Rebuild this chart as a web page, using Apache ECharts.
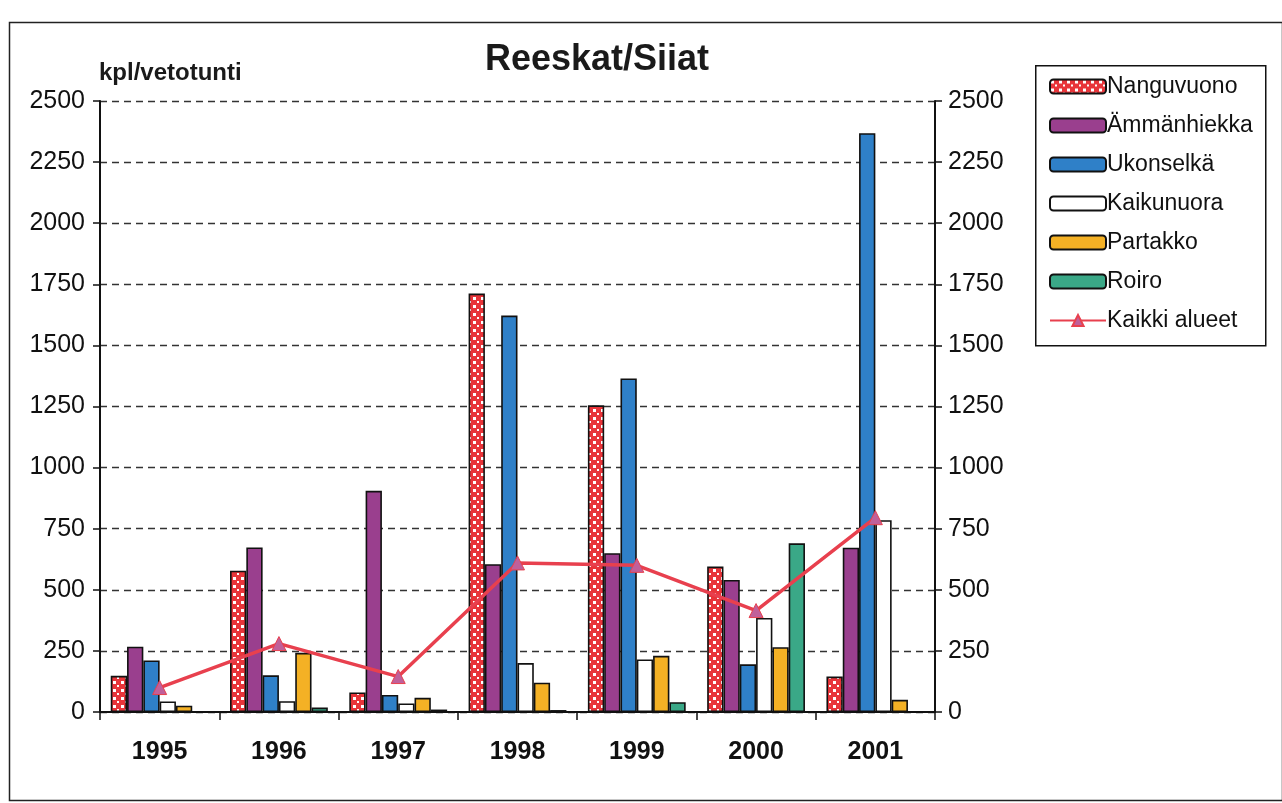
<!DOCTYPE html>
<html>
<head>
<meta charset="utf-8">
<script src="https://cdn.jsdelivr.net/npm/echarts@6/dist/echarts.min.js"></script>
<style>
html,body{margin:0;padding:0;background:#fff;}
#chart{width:1282px;height:803px;}
</style>
</head>
<body>
<div id="chart"></div>
<script>
const years = ['1995','1996','1997','1998','1999','2000','2001'];
const yTicks = [0,250,500,750,1000,1250,1500,1750,2000,2250,2500];
const nanguvuono = [148, 578, 80, 1712, 1255, 595, 145];
const ammanhiekka = [267, 673, 905, 605, 650, 540, 672];
const ukonselka = [211, 150, 70, 1622, 1365, 195, 2368];
const kaikunuora = [43, 44, 35, 200, 215, 385, 785];
const partakko = [26, 242, 58, 120, 230, 265, 50];
const roiro = [0, 18, 10, 8, 40, 690, 0];
const kaikkiAlueet = [100, 280, 145, 610, 600, 415, 795];

// checkered red/white pattern
const pc = document.createElement('canvas');
pc.width = 8; pc.height = 8;
const px = pc.getContext('2d');
px.fillStyle = '#e8353a'; px.fillRect(0,0,8,8);
px.fillStyle = '#ffffff';
px.fillRect(1,1,3,3); px.fillRect(5,5,2,2);
const checker = {image: pc, repeat: 'repeat'};

const chart = echarts.init(document.getElementById('chart'));
const border = {borderColor:'#111', borderWidth:1.6};
function barSeries(name, data, color){
  return {name, type:'bar', data, yAxisIndex:0, barGap:'0%', barCategoryGap:'18%',
    itemStyle:Object.assign({color}, border)};
}
const FF = 'Liberation Sans, Arial, sans-serif';
const axisFont = {fontFamily:FF, fontSize:25, color:'#111'};
chart.setOption({
  animation:false,
  backgroundColor:'#fff',
  title:[
    {text:'Reeskat/Siiat', left:592, top:37, textAlign:'center',
     textStyle:{fontFamily:FF, fontSize:36, fontWeight:'bold', color:'#1a1a1a'}},
    {text:'kpl/vetotunti', left:94, top:56,
     textStyle:{fontFamily:FF, fontSize:24, fontWeight:'bold', color:'#1a1a1a'}}
  ],
  graphic:[
    {type:'rect', left:7, top:20, shape:{width:1273, height:778}, style:{fill:null, stroke:'#222', lineWidth:1.5}, silent:true, z:-1},
    {type:'rect', left:1035, top:65, shape:{width:230, height:280}, style:{fill:'#fff', stroke:'#111', lineWidth:1.5}, silent:true, z:-1}
  ],
  legend:{
    orient:'vertical', left:1044, top:70, itemWidth:56, itemHeight:14, itemGap:16,
    textStyle:{fontFamily:FF, fontSize:23, color:'#111', padding:[0,0,0,-4]},
    data:['Nanguvuono','Ämmänhiekka','Ukonselkä','Kaikunuora','Partakko','Roiro','Kaikki alueet']
  },
  grid:{left:100, right:347, top:101, bottom:91},
  xAxis:{
    type:'category', data:years,
    axisLine:{lineStyle:{color:'#111', width:2}},
    axisTick:{show:true, length:8, lineStyle:{color:'#111', width:1.5}},
    axisLabel:Object.assign({margin:28, fontWeight:'bold'}, axisFont)
  },
  yAxis:[
    {type:'value', min:0, max:2500, interval:250,
     axisLine:{show:true, lineStyle:{color:'#111', width:2}},
     axisTick:{show:true, length:7, lineStyle:{color:'#111', width:1.5}},
     axisLabel:Object.assign({margin:15, formatter:v=>yTicks.includes(v)?String(v):''}, axisFont),
     splitLine:{show:true, lineStyle:{color:'#333', width:1.3, type:[7,5]}}},
    {type:'value', min:0, max:2500, interval:250, position:'right',
     axisLine:{show:true, lineStyle:{color:'#111', width:2}},
     axisTick:{show:true, length:7, inside:false, lineStyle:{color:'#111', width:1.5}},
     axisLabel:Object.assign({margin:13, formatter:v=>yTicks.includes(v)?String(v):''}, axisFont),
     splitLine:{show:false}}
  ],
  series:[
    barSeries('Nanguvuono', nanguvuono, checker),
    barSeries('Ämmänhiekka', ammanhiekka, '#9a3f8e'),
    barSeries('Ukonselkä', ukonselka, '#2f80c8'),
    barSeries('Kaikunuora', kaikunuora, '#ffffff'),
    barSeries('Partakko', partakko, '#f4b125'),
    barSeries('Roiro', roiro, '#3aa887'),
    {name:'Kaikki alueet', type:'line', yAxisIndex:1, data:kaikkiAlueet,
     symbol:'triangle', symbolSize:14, z:5,
     lineStyle:{color:'#e8404e', width:3.5},
     itemStyle:{color:'#c0609a', borderColor:'#e8404e', borderWidth:1}}
  ]
});
</script>
</body>
</html>
